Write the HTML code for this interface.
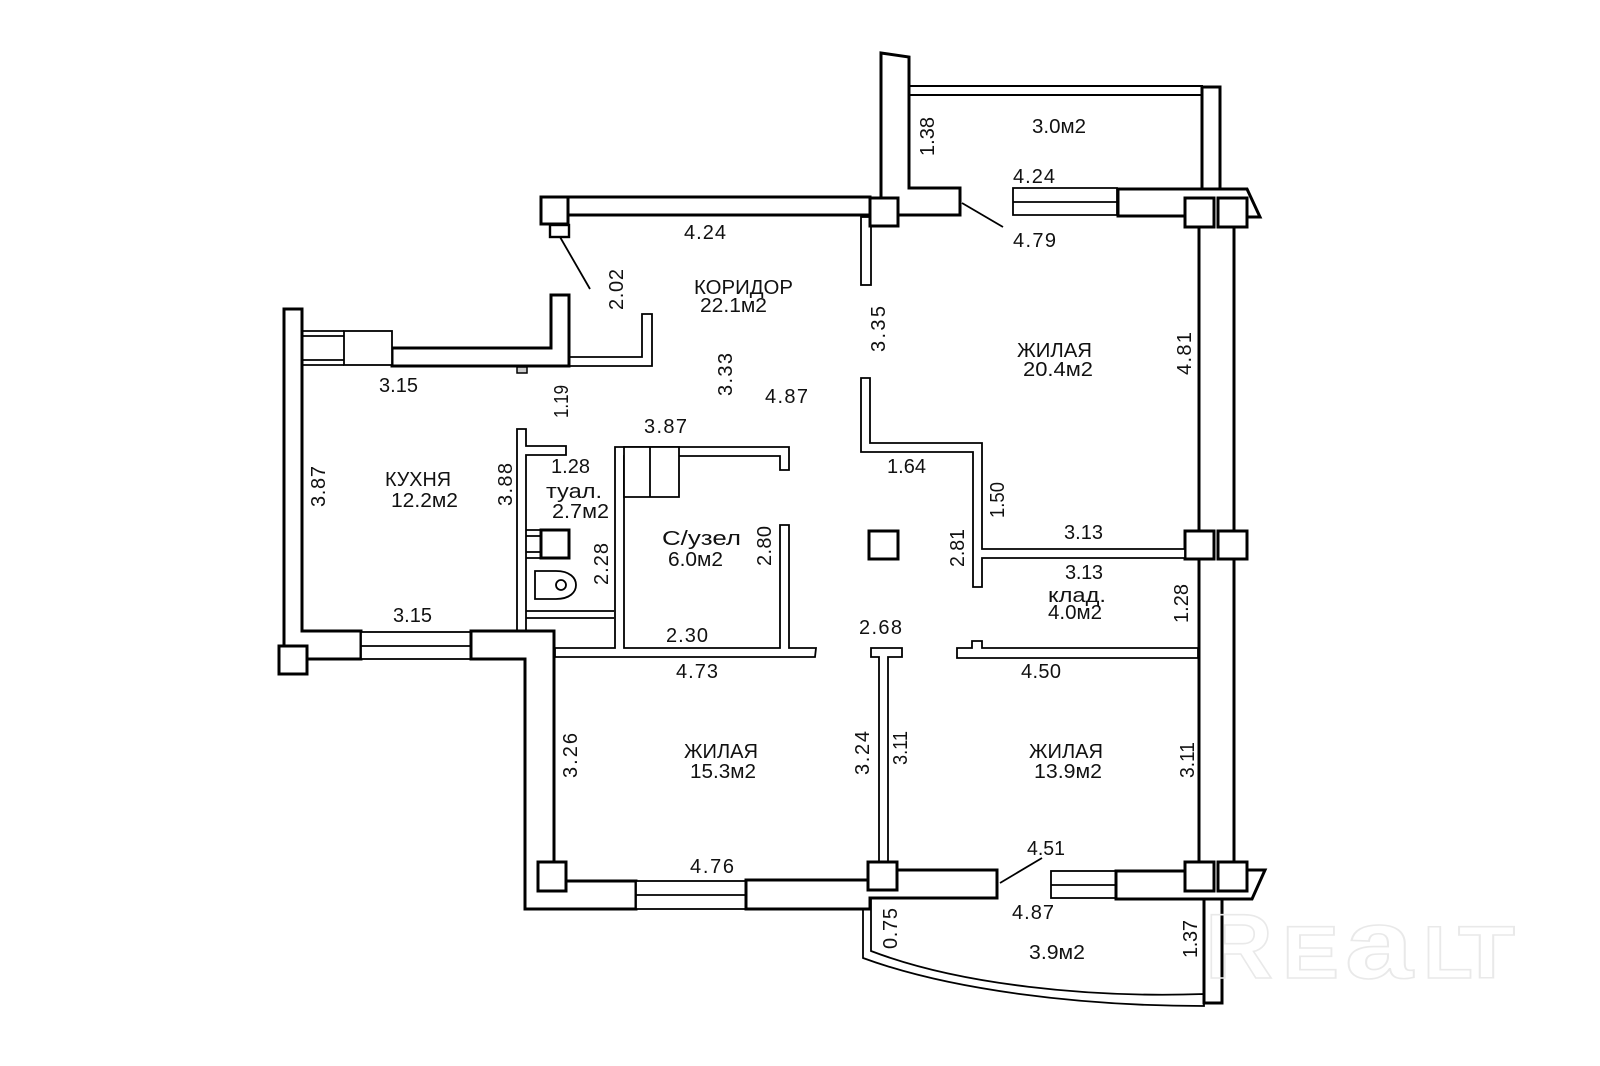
<!DOCTYPE html>
<html><head><meta charset="utf-8"><style>
html,body{margin:0;padding:0;background:#fff}
svg{display:block}
text{font-family:"Liberation Sans",sans-serif;font-size:20px;fill:#111}
.w{fill:none;stroke:#e9e9e9;stroke-width:1.6;font-weight:bold}
.a{fill:#fff;stroke:#000;stroke-width:3;stroke-linejoin:miter}
.t{fill:#fff;stroke:#000;stroke-width:1.8}
.l{fill:none;stroke:#000;stroke-width:1.8}
.k{fill:none;stroke:#000;stroke-width:3}
</style></head><body>
<svg width="1600" height="1066" viewBox="0 0 1600 1066" xmlns="http://www.w3.org/2000/svg">
<rect width="1600" height="1066" fill="#fff"/>
<!-- top balcony -->
<path class="t" d="M909 86H1202V95H909Z" style="stroke-width:2"/>
<path class="a" d="M1202 188V87H1220V188"/>
<path class="a" d="M881 198V53L909 57V188H960V215H898"/>
<path class="l" d="M962 203L1003 227"/>
<!-- top right window+wall -->
<path class="t" d="M1013 188H1117V215H1013Z"/><path class="l" d="M1013 202H1117"/>
<path class="a" d="M1185 216H1118V189H1247L1260 217H1247"/>
<!-- corridor top wall -->
<path class="a" d="M568 197H870V215H568"/>
<rect class="t" x="861" y="217" width="10" height="68"/>
<rect class="a" x="541" y="197" width="27" height="27"/>
<rect class="a" x="550" y="225" width="19" height="12" style="stroke-width:2.4"/>
<path class="l" d="M560 237L590 289"/>
<rect class="a" x="870" y="198" width="28" height="28"/>
<!-- right long walls -->
<path class="k" d="M1199 227V862M1234 227V862"/>
<rect class="a" x="1185" y="198" width="29" height="29"/>
<rect class="a" x="1218" y="198" width="29" height="29"/>
<rect class="a" x="1185" y="531" width="29" height="28"/>
<rect class="a" x="1218" y="531" width="29" height="28"/>
<!-- kitchen upper -->
<path class="t" d="M569 357H642V314H652V366H569Z"/>
<path class="a" d="M392 348H551V295H569V366H392Z"/>
<rect x="517" y="367" width="10" height="6" fill="#ccc" stroke="#000" stroke-width="1.5"/>
<rect class="t" x="344" y="331" width="48" height="34"/>
<path class="l" d="M303 331H344M303 336H344M303 360H344M303 365H344"/>
<!-- left wall + bottom -->
<path class="a" d="M284 646V309H302V631H361V659H307"/>
<rect class="t" x="361" y="632" width="110" height="27"/><path class="l" d="M361 646H471"/>
<rect class="a" x="279" y="646" width="28" height="28"/>
<!-- bathroom -->
<path class="t" d="M517 631V429H526V446H566V455H526V631"/>
<path class="l" d="M526 611H614M526 618H614"/>
<path class="t" d="M815 657H555V648H615V447H789V470H780V456H624V648H780V525H789V648H816Z"/>
<path class="t" d="M624 447H679V497H624Z"/><path class="l" d="M650 447V497"/>
<rect class="a" x="541" y="530" width="28" height="28"/>
<path class="l" d="M526 530H541M526 536H541M526 552H541M526 558H541"/>
<path class="l" d="M535 571H556C570 571 576 578 576 585C576 592 570 599 556 599H535Z"/>
<circle class="l" cx="561" cy="585" r="5"/>
<!-- lower left room wall -->
<path class="a" d="M471 631H554V870H566V881H636V909H525V659H471Z"/>
<rect class="a" x="538" y="862" width="28" height="29"/>
<rect class="t" x="636" y="881" width="110" height="28"/><path class="l" d="M636 895H746"/>
<!-- centre -->
<rect class="a" x="869" y="531" width="29" height="28"/>
<path class="t" d="M871 648H902V657H888V862H879V657H871Z"/>
<path class="t" d="M1198 648H982V641H972V648H957V658H1198Z"/>
<path class="t" d="M861 378V452H973V587H982V558H1185V549H982V443H870V378Z"/>
<!-- bottom walls -->
<path class="t" d="M863 909V958C950 990 1080 1006 1204 1006V994C1090 998 960 985 871 951V898H863Z"/>
<path class="a" d="M897 870H997V898H870V909H746V880H868"/>
<path class="l" d="M1000 883L1042 858"/>
<rect class="t" x="1051" y="871" width="65" height="27"/><path class="l" d="M1051 885H1116"/>
<path class="a" d="M1185 871H1116V899H1252L1265 870H1246"/>
<rect class="a" x="1204" y="899" width="18" height="104"/>
<rect class="a" x="868" y="862" width="29" height="28"/>
<rect class="a" x="1185" y="862" width="29" height="29"/>
<rect class="a" x="1218" y="862" width="29" height="29"/>

<!-- watermark -->
<text class="w" x="1205" y="978" textLength="68" lengthAdjust="spacingAndGlyphs" style="font-size:92px;fill:none;stroke:#e9e9e9">R</text>
<text class="w" x="1282" y="978" textLength="57" lengthAdjust="spacingAndGlyphs" style="font-size:74px;fill:none;stroke:#e9e9e9">E</text>
<text class="w" x="1345" y="978" textLength="68" lengthAdjust="spacingAndGlyphs" style="font-size:98px;fill:none;stroke:#e9e9e9">a</text>
<text class="w" x="1423" y="978" textLength="50" lengthAdjust="spacingAndGlyphs" style="font-size:74px;fill:none;stroke:#e9e9e9">L</text>
<text class="w" x="1458" y="978" textLength="57" lengthAdjust="spacingAndGlyphs" style="font-size:74px;fill:none;stroke:#e9e9e9">T</text>

<!-- horizontal labels -->
<g>
<text x="1032" y="133" textLength="54" lengthAdjust="spacingAndGlyphs">3.0м2</text>
<text x="1013" y="183" textLength="42">4.24</text>
<text x="1013" y="247" textLength="43">4.79</text>
<text x="684" y="239" textLength="42">4.24</text>
<text x="694" y="294" textLength="99" lengthAdjust="spacingAndGlyphs">КОРИДОР</text>
<text x="700" y="312" textLength="67" lengthAdjust="spacingAndGlyphs">22.1м2</text>
<text x="379" y="392" textLength="39">3.15</text>
<text x="644" y="433" textLength="43">3.87</text>
<text x="551" y="473" textLength="39">1.28</text>
<text x="765" y="403" textLength="43">4.87</text>
<text x="385" y="486" textLength="66" lengthAdjust="spacingAndGlyphs">КУХНЯ</text>
<text x="391" y="507" textLength="67" lengthAdjust="spacingAndGlyphs">12.2м2</text>
<text x="546" y="498" textLength="56" lengthAdjust="spacingAndGlyphs">туал.</text>
<text x="552" y="518" textLength="57" lengthAdjust="spacingAndGlyphs">2.7м2</text>
<text x="662" y="545" textLength="79" lengthAdjust="spacingAndGlyphs">С/узел</text>
<text x="668" y="566" textLength="55" lengthAdjust="spacingAndGlyphs">6.0м2</text>
<text x="393" y="622" textLength="39">3.15</text>
<text x="666" y="642" textLength="42">2.30</text>
<text x="676" y="678" textLength="42">4.73</text>
<text x="887" y="473" textLength="39">1.64</text>
<text x="1064" y="539" textLength="39">3.13</text>
<text x="1065" y="579" textLength="38">3.13</text>
<text x="1048" y="602" textLength="58" lengthAdjust="spacingAndGlyphs">клад.</text>
<text x="1048" y="619" textLength="54" lengthAdjust="spacingAndGlyphs">4.0м2</text>
<text x="859" y="634" textLength="43">2.68</text>
<text x="1021" y="678" textLength="40">4.50</text>
<text x="1017" y="357" textLength="75" lengthAdjust="spacingAndGlyphs">ЖИЛАЯ</text>
<text x="1023" y="376" textLength="70" lengthAdjust="spacingAndGlyphs">20.4м2</text>
<text x="684" y="758" textLength="74" lengthAdjust="spacingAndGlyphs">ЖИЛАЯ</text>
<text x="690" y="778" textLength="66" lengthAdjust="spacingAndGlyphs">15.3м2</text>
<text x="1029" y="758" textLength="74" lengthAdjust="spacingAndGlyphs">ЖИЛАЯ</text>
<text x="1034" y="778" textLength="68" lengthAdjust="spacingAndGlyphs">13.9м2</text>
<text x="690" y="873" textLength="44">4.76</text>
<text x="1027" y="855" textLength="38" lengthAdjust="spacingAndGlyphs">4.51</text>
<text x="1012" y="919" textLength="42">4.87</text>
<text x="1029" y="959" textLength="56" lengthAdjust="spacingAndGlyphs">3.9м2</text>
</g>
<!-- vertical labels: translate(baseline x, bottom y) -->
<g>
<text transform="translate(934 156) rotate(-90)" textLength="39">1.38</text>
<text transform="translate(885 352) rotate(-90)" textLength="46">3.35</text>
<text transform="translate(623 310) rotate(-90)" textLength="41">2.02</text>
<text transform="translate(568 418) rotate(-90)" textLength="33" lengthAdjust="spacingAndGlyphs">1.19</text>
<text transform="translate(732 396) rotate(-90)" textLength="43">3.33</text>
<text transform="translate(1191 375) rotate(-90)" textLength="43">4.81</text>
<text transform="translate(325 507) rotate(-90)" textLength="41">3.87</text>
<text transform="translate(512 506) rotate(-90)" textLength="43">3.88</text>
<text transform="translate(608 585) rotate(-90)" textLength="42">2.28</text>
<text transform="translate(771 566) rotate(-90)" textLength="40">2.80</text>
<text transform="translate(1004 518) rotate(-90)" textLength="36" lengthAdjust="spacingAndGlyphs">1.50</text>
<text transform="translate(964 567) rotate(-90)" textLength="38" lengthAdjust="spacingAndGlyphs">2.81</text>
<text transform="translate(1188 623) rotate(-90)" textLength="39">1.28</text>
<text transform="translate(577 778) rotate(-90)" textLength="45">3.26</text>
<text transform="translate(869 775) rotate(-90)" textLength="44">3.24</text>
<text transform="translate(907 765) rotate(-90)" textLength="34" lengthAdjust="spacingAndGlyphs">3.11</text>
<text transform="translate(1194 778) rotate(-90)" textLength="36" lengthAdjust="spacingAndGlyphs">3.11</text>
<text transform="translate(897 949) rotate(-90)" textLength="41">0.75</text>
<text transform="translate(1197 958) rotate(-90)" textLength="38">1.37</text>
</g>
</svg>
</body></html>
